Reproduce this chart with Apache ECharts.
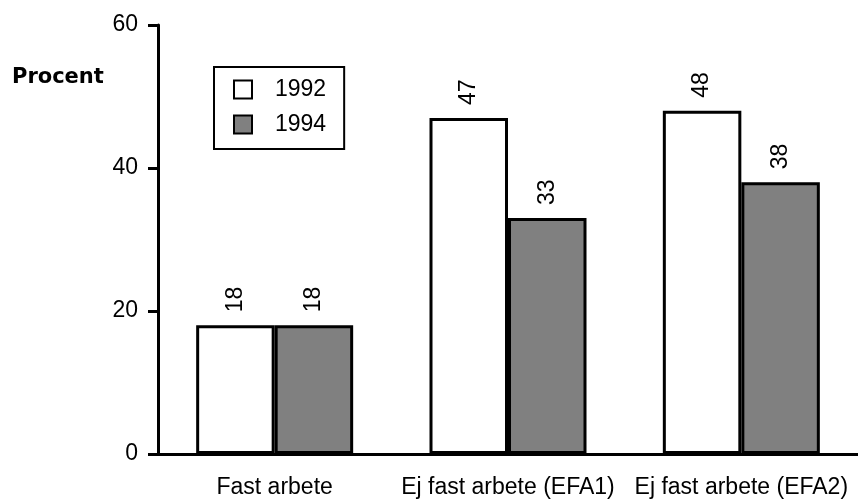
<!DOCTYPE html>
<html>
<head>
<meta charset="utf-8">
<script src="https://cdn.jsdelivr.net/npm/echarts@6/dist/echarts.min.js"></script>
<style>
html,body{margin:0;padding:0;background:#fff;}
#chart{width:858px;height:499px;}
</style>
</head>
<body>
<div id="chart"></div>
<script>
var categories = ['Fast arbete', 'Ej fast arbete (EFA1)', 'Ej fast arbete (EFA2)'];
var seriesNames = ['1992', '1994'];
var values1992 = [18, 47, 48];
var values1994 = [18, 33, 38];
var yTicks = [0, 20, 40, 60];

var FONT = "'Liberation Sans', Arial, Helvetica, sans-serif";
var chart = echarts.init(document.getElementById('chart'), null, {renderer: 'canvas'});

function labelCfg() {
  return {
    show: true, position: 'top', rotate: 90, align: 'left', verticalAlign: 'middle',
    distance: 13, fontSize: 23, color: '#000', fontFamily: FONT
  };
}

var option = {
  backgroundColor: '#fff',
  animation: false,
  textStyle: {fontFamily: FONT},
  grid: {left: 158, top: 25, width: 705, height: 430, containLabel: false},
  legend: {
    orient: 'vertical', left: 214, top: 67,
    padding: [11, 18, 13, 19],
    borderColor: '#000', borderWidth: 2, backgroundColor: '#fff',
    itemWidth: 18, itemHeight: 18, itemGap: 12,
    icon: 'rect',
    textStyle: {fontSize: 23, color: '#000', fontFamily: FONT, padding: [0, 0, 0, 18]},
    data: seriesNames
  },
  graphic: [{
    type: 'text', left: 12, top: 67,
    style: {text: 'Procent', font: "bold 21px 'DejaVu Sans', sans-serif", fill: '#000'}
  }],
  xAxis: {
    type: 'category', data: categories,
    axisLine: {show: true, lineStyle: {color: '#000', width: 3}},
    axisTick: {show: false},
    axisLabel: {color: '#000', fontSize: 23, margin: 22, fontFamily: FONT, interval: 0}
  },
  yAxis: {
    type: 'value', min: yTicks[0], max: yTicks[yTicks.length - 1], interval: 20,
    axisLine: {show: true, lineStyle: {color: '#000', width: 3}},
    axisTick: {show: true, length: 10, lineStyle: {color: '#000', width: 3}},
    splitLine: {show: false},
    axisLabel: {color: '#000', fontSize: 23, margin: 20, fontFamily: FONT}
  },
  series: [
    {
      name: seriesNames[0], type: 'bar', data: values1992,
      barWidth: 78.5, barGap: '0%',
      itemStyle: {color: '#ffffff', borderColor: '#000', borderWidth: 3},
      label: labelCfg()
    },
    {
      name: seriesNames[1], type: 'bar', data: values1994,
      barWidth: 78.5, barGap: '0%',
      itemStyle: {color: '#808080', borderColor: '#000', borderWidth: 3},
      label: labelCfg()
    }
  ]
};
chart.setOption(option);
</script>
</body>
</html>
